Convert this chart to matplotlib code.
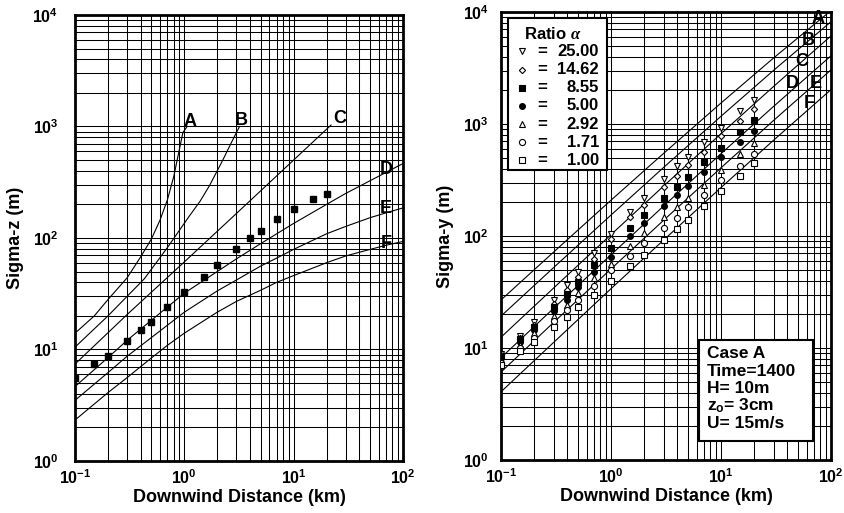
import numpy as np
import matplotlib
matplotlib.use("Agg")
import matplotlib.pyplot as plt
from matplotlib.patches import Rectangle
from matplotlib.ticker import FuncFormatter, LogLocator, NullFormatter

plt.rcParams['font.family'] = ['Liberation Sans', 'DejaVu Sans']
plt.rcParams['font.weight'] = 'bold'
plt.rcParams['mathtext.fontset'] = 'custom'
plt.rcParams['mathtext.rm'] = 'Liberation Sans:bold'
plt.rcParams['mathtext.bf'] = 'Liberation Sans:bold'
plt.rcParams['mathtext.it'] = 'Liberation Serif:italic'

# ---- left panel: sigma-z, Pasquill-Gifford curves + observed ----
dist = [0.1, 0.15, 0.2, 0.3, 0.4, 0.5, 0.7, 1.0, 1.5, 2, 3, 4, 5, 7, 10, 15, 20]
sz_obs = [5.6, 7.4, 8.8, 11.8, 14.8, 17.8, 24, 33, 45, 57, 80, 99, 116, 148, 181, 222, 247]

szA_x = [0.1, 0.15, 0.2, 0.3, 0.4, 0.5, 0.6, 0.7, 0.8, 0.9, 0.97, 1.06]
szA = [14, 20, 28, 44, 68, 98, 145, 220, 355, 620, 880, 1000]
szB_x = [0.1, 0.2, 0.3, 0.43, 0.7, 1.1, 1.4, 1.7, 2.25, 2.7, 3.2]
szB = [10.5, 20, 30, 43, 82, 155, 215, 295, 500, 720, 1000]
szC_x = [0.1, 0.3, 1, 3, 10, 22]
szC = [7.4, 20.6, 61, 166, 500, 1030]
szDEF_x = [0.1, 0.2, 0.3, 0.5, 0.7, 1, 2, 3, 5, 7, 10, 20, 30, 50, 70, 100]
szD = [4.65, 8.45, 12.1, 18.3, 24, 32, 50, 65, 89, 109, 135, 200, 251, 326, 387, 465]
szE = [3.5, 6.2, 8.7, 12.8, 16.5, 21.6, 33.5, 42, 56, 66, 79, 109, 127, 152, 168, 186]
szF = [2.33, 4.1, 5.6, 8.4, 10.9, 14, 21.6, 27, 34, 40, 46, 60, 69, 79, 86, 93]

# ---- right panel: sigma-y lines + ratio series ----
sy_x = [0.1, 0.3, 1, 3, 10, 30, 100]
syA = [26.9, 71.8, 209, 546, 1541, 3883, 10311]
syB = [19.3, 52.2, 154, 409, 1174, 3011, 8201]
syC = [12.5, 34.3, 103, 279, 820, 2162, 6124]
syD = [8.2, 22.6, 68.1, 185, 544, 1435, 4069]
syE = [6.1, 16.9, 50.9, 138, 407, 1075, 3048]
syF = [4.07, 11.2, 33.9, 91.9, 271, 716, 2031]

ratio_labels = ['25.00', '14.62', '8.55', '5.00', '2.92', '1.71', '1.00']
sy_r2500 = [8.8, 12.8, 17.2, 26.8, 36.5, 48, 70, 104, 165, 217, 321, 422, 511, 690, 920, 1320, 1650]
sy_r1462 = [8.6, 12.4, 16.2, 24.5, 33, 43, 62, 95, 149, 189, 275, 343, 430, 566, 781, 1071, 1350]
sy_r855 = [8.4, 12.0, 15.4, 23, 30.5, 39, 55, 78, 117, 154, 220, 272, 339, 461, 615, 853, 1075]
sy_r500 = [8.1, 11.3, 14.5, 21.5, 27, 35, 48, 64.5, 101, 130, 185, 232, 280, 375, 504, 686, 866]
sy_r292 = [7.7, 10.6, 13.5, 19.5, 24, 31, 42, 56, 81, 106, 148, 183, 217, 285, 388, 540, 680]
sy_r171 = [7.3, 10.1, 12.4, 17.5, 22, 27, 36, 50, 66, 87, 118, 145, 180, 232, 316, 422, 545]
sy_r100 = [7.0, 9.5, 11.4, 15.5, 19, 23, 30, 40, 54, 68, 92, 115, 139, 185, 250, 343, 452]

info_lines = ['Case A', 'Time=1400', 'H= 10m', r'z$_{\mathregular{o}}$= 3cm', 'U= 15m/s']


def pow_fmt(v, pos):
    return r'$\mathbf{10^{%d}}$' % int(round(np.log10(v)))


def setup(ax, ylabel, ypad):
    ax.set_xscale('log')
    ax.set_yscale('log')
    ax.set_xlim(0.1, 100)
    ax.set_ylim(1, 1e4)
    ax.xaxis.set_major_locator(LogLocator(base=10))
    ax.yaxis.set_major_locator(LogLocator(base=10))
    ax.xaxis.set_minor_locator(LogLocator(base=10, subs=np.arange(2, 10)))
    ax.yaxis.set_minor_locator(LogLocator(base=10, subs=np.arange(2, 10)))
    ax.xaxis.set_minor_formatter(NullFormatter())
    ax.yaxis.set_minor_formatter(NullFormatter())
    ax.xaxis.set_major_formatter(FuncFormatter(pow_fmt))
    ax.yaxis.set_major_formatter(FuncFormatter(pow_fmt))
    ax.tick_params(which='both', length=0, labelsize=11.5)
    ax.tick_params(axis='x', pad=5)
    ax.tick_params(axis='y', pad=ypad)
    ax.grid(True, which='both', color='black', lw=0.75)
    for s in ax.spines.values():
        s.set_linewidth(2)
    ax.set_xlabel('Downwind Distance (km)', fontsize=13, fontweight='bold', labelpad=2)
    ax.set_ylabel(ylabel, fontsize=13, fontweight='bold', labelpad=6)


fig = plt.figure(figsize=(8.45, 5.13), dpi=100)
ax1 = fig.add_axes([0.0888, 0.1014, 0.388, 0.8694])
ax2 = fig.add_axes([0.593, 0.1033, 0.3905, 0.8733])
setup(ax1, 'Sigma-z (m)', 12)
setup(ax2, 'Sigma-y (m)', 9)

lk = dict(color='black', lw=0.8)
ax1.plot(szA_x, szA, **lk)
ax1.plot(szB_x, szB, **lk)
ax1.plot(szC_x, szC, **lk)
ax1.plot(szDEF_x, szD, **lk)
ax1.plot(szDEF_x, szE, **lk)
ax1.plot(szDEF_x, szF, **lk)
ax1.plot(dist, sz_obs, ls='none', marker='s', ms=4.5, color='black')

lab_kw = dict(fontsize=13, fontweight='bold', ha='center', va='center')
for t, x, y in [('A', 1.12, 1100), ('B', 3.3, 1120), ('C', 26.5, 1170),
                ('D', 70, 415), ('E', 70, 182), ('F', 70, 90)]:
    ax1.text(x, y, t, **lab_kw)

for ys in [syA, syB, syC, syD, syE, syF]:
    ax2.plot(sy_x, ys, **lk)

styles = [dict(marker='v', mfc='white', ms=4.2), dict(marker='D', mfc='white', ms=3.2),
          dict(marker='s', mfc='black', ms=4.2), dict(marker='o', mfc='black', ms=4.2),
          dict(marker='^', mfc='white', ms=4.2), dict(marker='o', mfc='white', ms=4.4),
          dict(marker='s', mfc='white', ms=4.2)]
series = [sy_r2500, sy_r1462, sy_r855, sy_r500, sy_r292, sy_r171, sy_r100]
for ys, st in zip(series, styles):
    ax2.plot(dist, ys, ls='none', mec='black', mew=0.8, zorder=3, **st)

for t, x, y in [('A', 76, 8840), ('B', 62, 5620), ('C', 54.5, 3580),
                ('D', 44, 2320), ('E', 72, 2320), ('F', 64, 1540)]:
    ax2.text(x, y, t, zorder=4, **lab_kw)

# legend box
ax2.add_patch(Rectangle((0.021, 0.647), 0.30, 0.34, transform=ax2.transAxes,
                        facecolor='white', edgecolor='black', lw=1.5, zorder=5))
ax2.text(0.158, 0.952, r'Ratio $\alpha$', transform=ax2.transAxes, fontsize=12,
         fontweight='bold', ha='center', va='center', zorder=6)
for i, (lab, st) in enumerate(zip(ratio_labels, styles)):
    yy = 0.912 - i * 0.0405
    ax2.plot([0.063], [yy], transform=ax2.transAxes, mec='black', mew=0.8,
             zorder=6, clip_on=False, **st)
    ax2.text(0.11, yy, '=', transform=ax2.transAxes, fontsize=12, fontweight='bold',
             ha='left', va='center', zorder=6)
    ax2.text(0.297, yy, lab, transform=ax2.transAxes, fontsize=12, fontweight='bold',
             ha='right', va='center', zorder=6)

# info box
ax2.add_patch(Rectangle((0.60, 0.042), 0.345, 0.226, transform=ax2.transAxes,
                        facecolor='white', edgecolor='black', lw=1.5, zorder=5))
for i, line in enumerate(info_lines):
    ax2.text(0.623, 0.237 - i * 0.039, line, transform=ax2.transAxes, fontsize=12.5,
             fontweight='bold', ha='left', va='center', zorder=6)

fig.savefig('out.png', dpi=100)
